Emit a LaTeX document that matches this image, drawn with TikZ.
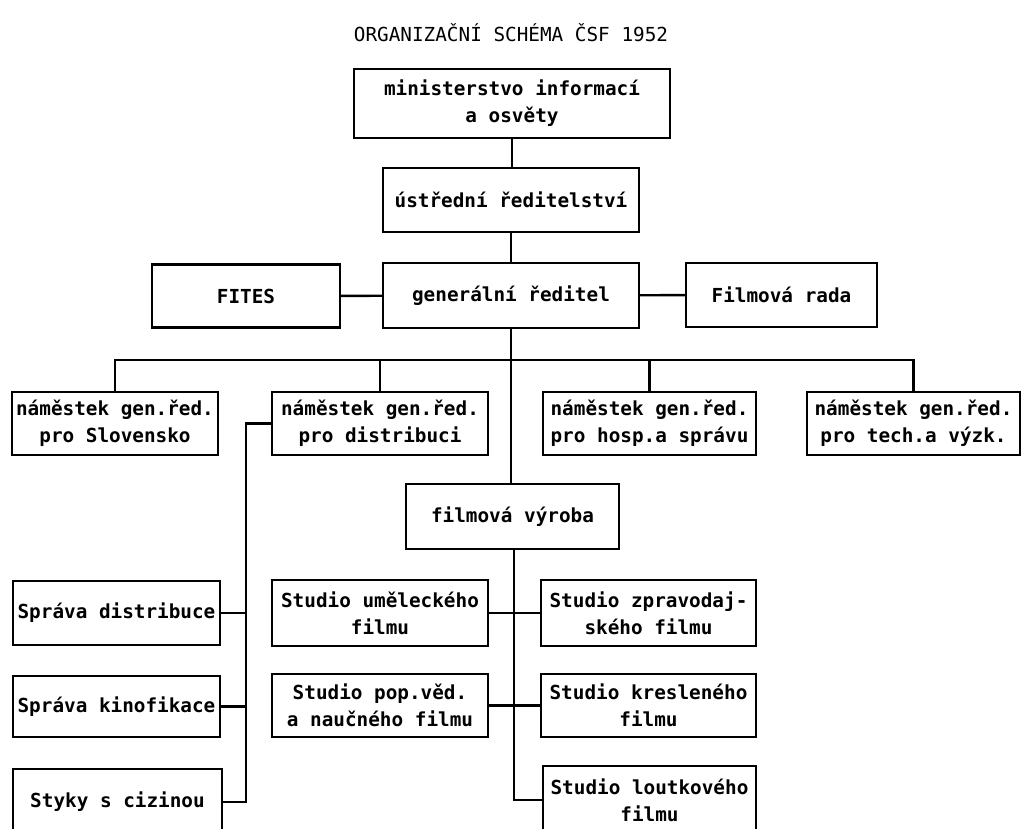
\documentclass[tikz,border=0pt]{standalone}
\usepackage{fontspec}
\setmonofont{DejaVu Sans Mono}
\usepackage{tikz}

\tikzset{
	box/.style={draw, line width=1.4pt, align=center, inner sep=1pt,
		font=\ttfamily\bfseries\fontsize{11}{15.4}\selectfont},
	link/.style={line width=1.4pt}
}

\begin{document}
\begin{tikzpicture}[x=0.02cm, y=-0.02cm]
	\useasboundingbox (0,0) rectangle (1022,829);
	\clip (0,0) rectangle (1022,829);
	\node (title) at (511,33) {\ttfamily\fontsize{11}{13}\selectfont ORGANIZAČNÍ SCHÉMA ČSF 1952};
	
	\node[box, minimum width=6.32cm, minimum height=1.38cm] (min) at (512,103.5) {ministerstvo informací\\a osvěty};
	\node[box, minimum width=5.12cm, minimum height=1.28cm] (ust) at (511,200) {ústřední ředitelství};
	\node[box, minimum width=5.12cm, minimum height=1.30cm] (gen) at (511,295.5) {generální ředitel};
	\node[box, minimum width=3.76cm, minimum height=1.26cm] (fites) at (246,296) {FITES};
	\node[box, minimum width=3.82cm, minimum height=1.28cm] (rada) at (781.5,295) {Filmová rada};
	
	\node[box, minimum width=4.12cm, minimum height=1.26cm] (n1) at (115,423.5) {náměstek gen.řed.\\pro Slovensko};
	\node[box, minimum width=4.32cm, minimum height=1.26cm] (n2) at (380,423.5) {náměstek gen.řed.\\pro distribuci};
	\node[box, minimum width=4.26cm, minimum height=1.26cm] (n3) at (649.5,423.5) {náměstek gen.řed.\\pro hosp.a správu};
	\node[box, minimum width=4.26cm, minimum height=1.26cm] (n4) at (913.5,423.5) {náměstek gen.řed.\\pro tech.a výzk.};
	
	\node[box, minimum width=4.26cm, minimum height=1.30cm] (vyr) at (512.5,516.5) {filmová výroba};
	
	\node[box, minimum width=4.14cm, minimum height=1.28cm] (d1) at (116.5,613) {Správa distribuce};
	\node[box, minimum width=4.14cm, minimum height=1.22cm] (d2) at (116.5,706.5) {Správa kinofikace};
	\node[box, minimum width=4.18cm, minimum height=1.32cm] (d3) at (117.5,802) {Styky s cizinou};
	
	\node[box, minimum width=4.32cm, minimum height=1.32cm] (s1) at (380,613) {Studio uměleckého\\filmu};
	\node[box, minimum width=4.30cm, minimum height=1.32cm] (s2) at (648.5,613) {Studio zpravodaj-\\ského filmu};
	\node[box, minimum width=4.32cm, minimum height=1.26cm] (s3) at (380,705.5) {Studio pop.věd.\\a naučného filmu};
	\node[box, minimum width=4.30cm, minimum height=1.26cm] (s4) at (648.5,705.5) {Studio kresleného\\filmu};
	\node[box, minimum width=4.26cm, minimum height=1.36cm] (s5) at (649.5,800) {Studio loutkového\\filmu};
	
	\coordinate (bar) at (511,360);
	\coordinate (dtop) at (246,423.5);
	\coordinate (vdown) at (514,549);
	
	\draw[link] (min) -- (min |- ust.north);
	\draw[link] (ust) -- (gen);
	\draw[link] (fites) -- (gen);
	\draw[link] (gen) -- (rada);
	\draw[link] (gen.south) -- (gen.south |- vyr.north);
	\draw[link] (n1.north) |- (bar) -| (n4.north);
	\draw[link] (n2.north) -- (n2.north |- bar);
	\draw[link] (n3.north) -- (n3.north |- bar);
	
	\draw[link] (n2.west) -- (dtop) |- (d3.east);
	\draw[link] (d1.east) -- (d1.east -| dtop);
	\draw[link] (d2.east) -- (d2.east -| dtop);
	
	\draw[link] (vdown) |- (s5.west);
	\draw[link] (s1) -- (s2);
	\draw[link] (s3) -- (s4);
\end{tikzpicture}
\end{document}
